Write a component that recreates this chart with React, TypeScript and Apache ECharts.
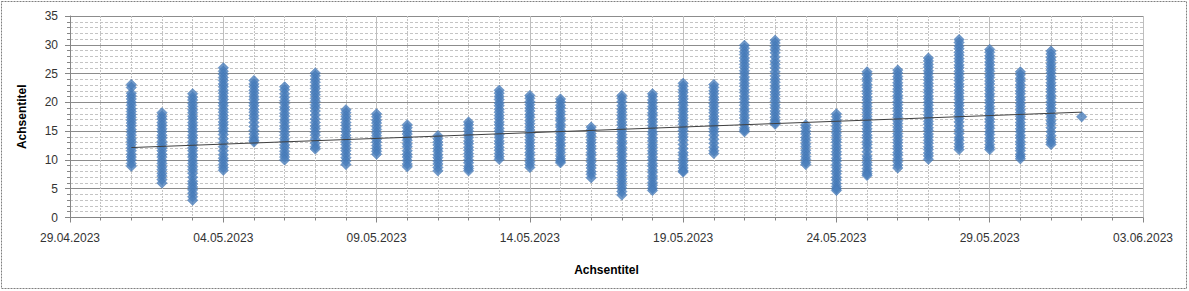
import React, { useEffect, useRef } from "react";
import * as echarts from "echarts";

// Day labels (dd.mm.yyyy) and estimated readings per day
const dayLabels = [
  "01.05.2023", "02.05.2023", "03.05.2023", "04.05.2023", "05.05.2023", "06.05.2023",
  "07.05.2023", "08.05.2023", "09.05.2023", "10.05.2023", "11.05.2023", "12.05.2023",
  "13.05.2023", "14.05.2023", "15.05.2023", "16.05.2023", "17.05.2023", "18.05.2023",
  "19.05.2023", "20.05.2023", "21.05.2023", "22.05.2023", "23.05.2023", "24.05.2023",
  "25.05.2023", "26.05.2023", "27.05.2023", "28.05.2023", "29.05.2023", "30.05.2023",
  "31.05.2023", "01.06.2023",
];

const r0105 = [23.1, 22.6, 21.6, 21.1, 20.6, 20.0, 19.5, 18.9, 18.4, 17.9, 17.4, 16.9, 16.4, 15.9, 15.3, 14.8, 14.3, 13.7, 13.2, 12.7, 12.1, 11.6, 11.0, 10.5, 10.0, 9.4, 8.9];
const r0205 = [18.2, 17.6, 17.1, 16.5, 16.0, 15.4, 14.9, 14.3, 13.8, 13.2, 12.7, 12.1, 11.6, 11.0, 10.5, 9.9, 9.4, 8.8, 8.3, 7.7, 7.2, 6.6, 6.0];
const r0305 = [21.5, 20.9, 20.4, 19.8, 19.3, 18.7, 18.2, 17.6, 17.1, 16.5, 16.0, 15.4, 14.9, 14.3, 13.8, 13.2, 12.7, 12.1, 11.6, 11.0, 10.5, 9.9, 9.4, 8.8, 8.3, 7.7, 7.0, 6.3, 5.8, 5.3, 4.8, 4.2, 3.6, 3.0];
const r0405 = [26.0, 25.4, 24.9, 24.3, 23.8, 23.2, 22.7, 22.1, 21.6, 21.0, 20.5, 19.9, 19.4, 18.8, 18.3, 17.7, 17.2, 16.6, 16.1, 15.5, 15.0, 14.4, 13.7, 13.0, 12.3, 11.6, 10.9, 10.3, 9.8, 9.2, 8.7, 8.2];
const r0505 = [23.8, 23.2, 22.7, 22.1, 21.6, 21.0, 20.5, 19.9, 19.4, 18.8, 18.3, 17.7, 17.2, 16.5, 15.8, 15.1, 14.5, 13.9, 13.4, 13.1];
const r0605 = [22.7, 22.2, 21.5, 20.9, 20.3, 19.8, 19.2, 18.7, 18.1, 17.6, 17.0, 16.5, 15.9, 15.4, 14.8, 14.3, 13.7, 13.2, 12.6, 12.1, 11.5, 11.0, 10.5, 10.0];
const r0705 = [25.1, 24.6, 24.0, 23.5, 22.9, 22.4, 21.8, 21.3, 20.7, 20.2, 19.6, 19.1, 18.5, 17.8, 17.1, 16.5, 15.9, 15.4, 14.8, 14.3, 13.6, 12.9, 12.3, 11.9];
const r0805 = [18.7, 18.2, 17.6, 17.1, 16.5, 16.0, 15.4, 14.9, 14.3, 13.8, 13.2, 12.7, 12.1, 11.6, 11.0, 10.4, 9.8, 9.2];
const r0905 = [18.0, 17.5, 16.9, 16.4, 15.8, 15.3, 14.7, 14.2, 13.6, 13.1, 12.5, 12.0, 11.5, 11.0];
const r1005 = [16.1, 15.6, 15.0, 14.5, 13.9, 13.4, 12.8, 12.3, 11.6, 11.0, 10.5, 9.9, 9.3, 8.8];
const r1105 = [14.2, 13.7, 13.1, 12.6, 12.0, 11.5, 10.9, 10.4, 9.8, 9.3, 8.7, 8.1];
const r1205 = [16.6, 16.1, 15.5, 15.0, 14.4, 13.9, 13.3, 12.8, 12.2, 11.7, 11.1, 10.6, 10.0, 9.5, 8.9, 8.5, 8.1];
const r1305 = [22.1, 21.6, 21.0, 20.5, 19.9, 19.4, 18.8, 18.3, 17.7, 17.2, 16.6, 16.1, 15.5, 15.0, 14.4, 13.9, 13.3, 12.8, 12.2, 11.7, 11.1, 10.6, 10.1];
const r1405 = [21.2, 20.7, 20.1, 19.6, 19.0, 18.5, 17.9, 17.4, 16.8, 16.3, 15.7, 15.2, 14.6, 14.1, 13.5, 13.0, 12.4, 11.9, 11.3, 10.8, 10.2, 9.7, 9.2, 8.7];
const r1505 = [20.6, 20.1, 19.5, 19.0, 18.4, 17.9, 17.3, 16.8, 16.2, 15.7, 15.1, 14.6, 14.0, 13.5, 12.9, 12.4, 11.8, 11.3, 10.7, 10.2, 9.8, 9.5];
const r1605 = [15.7, 15.2, 14.6, 14.1, 13.5, 13.0, 12.4, 11.9, 11.3, 10.8, 10.2, 9.7, 9.1, 8.6, 8.0, 7.5, 6.9];
const r1705 = [21.2, 20.7, 20.1, 19.4, 18.8, 18.3, 17.7, 17.2, 16.6, 16.1, 15.5, 15.0, 14.4, 13.9, 13.3, 12.8, 12.2, 11.7, 11.1, 10.6, 10.0, 9.5, 8.9, 8.4, 7.8, 7.3, 6.7, 6.2, 5.6, 5.1, 4.5, 3.9];
const r1805 = [21.5, 21.0, 20.4, 19.9, 19.3, 18.8, 18.2, 17.7, 17.1, 16.6, 16.0, 15.5, 14.9, 14.4, 13.8, 13.3, 12.7, 12.2, 11.6, 11.1, 10.5, 10.0, 9.4, 8.9, 8.3, 7.8, 7.2, 6.7, 6.1, 5.6, 5.1, 4.7];
const r1905 = [23.3, 22.8, 22.2, 21.7, 21.1, 20.6, 20.0, 19.5, 18.9, 18.4, 17.8, 17.3, 16.7, 16.2, 15.6, 15.1, 14.5, 14.0, 13.4, 12.7, 12.0, 11.3, 10.8, 10.2, 9.7, 9.1, 8.6, 8.1, 7.9];
const r2005 = [23.1, 22.6, 22.0, 21.5, 20.9, 20.4, 19.8, 19.3, 18.7, 18.2, 17.6, 17.1, 16.5, 16.0, 15.4, 14.9, 14.3, 13.6, 12.9, 12.2, 11.6, 11.1];
const r2105 = [29.9, 29.4, 28.8, 28.3, 27.7, 27.2, 26.6, 26.1, 25.5, 25.0, 24.4, 23.9, 23.3, 22.8, 22.2, 21.7, 21.1, 20.6, 20.0, 19.5, 18.9, 18.4, 17.8, 17.3, 16.7, 16.2, 15.6, 15.2, 14.9];
const r2205 = [30.8, 30.3, 29.7, 29.2, 28.6, 27.9, 27.2, 26.6, 26.0, 25.3, 24.6, 24.0, 23.5, 22.9, 22.4, 21.8, 21.3, 20.7, 20.2, 19.6, 19.1, 18.5, 18.0, 17.4, 16.9, 16.5, 16.2];
const r2305 = [16.1, 15.6, 15.0, 14.5, 13.9, 13.4, 12.8, 12.3, 11.7, 11.2, 10.6, 10.1, 9.6, 9.2];
const r2405 = [18.0, 17.5, 16.9, 16.4, 15.8, 15.3, 14.7, 14.2, 13.6, 13.1, 12.5, 12.0, 11.4, 10.9, 10.3, 9.8, 9.2, 8.7, 8.1, 7.6, 7.0, 6.5, 5.9, 5.4, 5.0, 4.7];
const r2505 = [25.3, 24.8, 24.2, 23.7, 23.1, 22.6, 22.0, 21.5, 20.9, 20.4, 19.8, 19.3, 18.7, 18.2, 17.6, 17.1, 16.5, 16.0, 15.4, 14.9, 14.3, 13.8, 13.2, 12.7, 12.1, 11.4, 10.7, 10.2, 9.6, 9.1, 8.5, 8.0, 7.6, 7.3];
const r2605 = [25.6, 25.1, 24.5, 24.0, 23.4, 22.9, 22.3, 21.8, 21.2, 20.7, 20.1, 19.6, 19.0, 18.5, 17.9, 17.4, 16.8, 16.3, 15.7, 15.2, 14.6, 14.1, 13.5, 13.0, 12.4, 11.9, 11.3, 10.8, 10.2, 9.7, 9.1, 8.6];
const r2705 = [27.7, 27.2, 26.6, 26.1, 25.5, 25.0, 24.4, 23.9, 23.3, 22.8, 22.2, 21.7, 21.1, 20.6, 20.0, 19.5, 18.9, 18.4, 17.8, 17.3, 16.7, 16.2, 15.6, 15.1, 14.5, 14.0, 13.4, 12.9, 12.3, 11.8, 11.2, 10.7, 10.1];
const r2805 = [30.9, 30.4, 29.8, 29.3, 28.7, 28.2, 27.6, 27.1, 26.5, 26.0, 25.4, 24.9, 24.3, 23.8, 23.2, 22.7, 22.1, 21.6, 21.0, 20.5, 19.9, 19.4, 18.8, 18.3, 17.7, 17.2, 16.6, 15.9, 15.2, 14.6, 13.9, 13.4, 12.8, 12.3, 11.8];
const r2905 = [29.2, 28.7, 28.1, 27.6, 27.0, 26.5, 25.9, 25.4, 24.8, 24.3, 23.7, 23.2, 22.6, 22.1, 21.5, 21.0, 20.4, 19.9, 19.3, 18.8, 18.2, 17.7, 17.1, 16.6, 16.0, 15.5, 14.9, 14.4, 13.8, 13.3, 12.7, 12.2, 11.8];
const r3005 = [25.3, 24.8, 24.2, 23.7, 23.1, 22.6, 22.0, 21.5, 20.9, 20.4, 19.8, 19.3, 18.7, 18.2, 17.6, 17.1, 16.5, 16.0, 15.4, 14.9, 14.3, 13.8, 13.2, 12.7, 12.1, 11.6, 11.0, 10.6, 10.2];
const r3105 = [28.9, 28.4, 27.8, 27.3, 26.7, 26.2, 25.6, 25.1, 24.5, 24.0, 23.4, 22.9, 22.3, 21.8, 21.2, 20.7, 20.1, 19.6, 19.0, 18.5, 17.9, 17.4, 16.8, 16.3, 15.6, 14.9, 14.2, 13.6, 13.1, 12.7];
const r0106 = [17.5];

const dayReadings = [
  r0105, r0205, r0305, r0405, r0505, r0605, r0705, r0805, r0905, r1005, r1105,
  r1205, r1305, r1405, r1505, r1605, r1705, r1805, r1905, r2005, r2105, r2205,
  r2305, r2405, r2505, r2605, r2705, r2805, r2905, r3005, r3105, r0106,
];

// Linear trend line end points
const trendStart: [string, number] = ["01.05.2023", 12.15];
const trendEnd: [string, number] = ["01.06.2023", 18.3];

// Axis range (dates) and y range
const xMinLabel = "29.04.2023";
const xMaxLabel = "03.06.2023";
const xStepDays = 5;
const yMin = 0;
const yMax = 35;
const yStep = 5;
const axisTitle = "Achsentitel";

const EXCEL_EPOCH = Date.UTC(1899, 11, 30);
const DAY = 86400000;
function toSerial(s: string): number {
  const [d, m, y] = s.split(".").map(Number);
  return Math.round((Date.UTC(y, m - 1, d) - EXCEL_EPOCH) / DAY);
}
function fromSerial(v: number): string {
  const dt = new Date(EXCEL_EPOCH + Math.round(v) * DAY);
  const dd = String(dt.getUTCDate()).padStart(2, "0");
  const mm = String(dt.getUTCMonth() + 1).padStart(2, "0");
  return `${dd}.${mm}.${dt.getUTCFullYear()}`;
}

export default function App() {
  const ref = useRef<HTMLDivElement>(null);
  useEffect(() => {
    document.body.style.margin = "0";
    const chart = echarts.init(ref.current!, null, { renderer: "svg" });
    const points: [number, number][] = [];
    dayLabels.forEach((lbl, i) => {
      const x = toSerial(lbl);
      dayReadings[i].forEach((v) => points.push([x, v]));
    });
    const font = "'Liberation Sans', Arial, sans-serif";
    chart.setOption({
      animation: false,
      backgroundColor: "#ffffff",
      grid: { left: 70, right: 46, top: 16, bottom: 73.5 },
      xAxis: {
        type: "value",
        min: toSerial(xMinLabel),
        max: toSerial(xMaxLabel),
        interval: xStepDays,
        name: axisTitle,
        nameLocation: "middle",
        nameGap: 46,
        nameTextStyle: { fontFamily: font, fontSize: 12, fontWeight: "bold", color: "#000" },
        axisLine: { show: true, lineStyle: { color: "#868686", width: 1 } },
        axisTick: { show: true, inside: false, length: 5, lineStyle: { color: "#868686" } },
        minorTick: { show: true, splitNumber: 5, length: 3, lineStyle: { color: "#868686" } },
        axisLabel: {
          fontFamily: font,
          fontSize: 12,
          color: "#333",
          margin: 14,
          showMinLabel: true,
          showMaxLabel: true,
          formatter: (v: number) => fromSerial(v),
        },
        splitLine: { show: true, lineStyle: { color: "#BEBEBE", width: 1 } },
        minorSplitLine: { show: true, lineStyle: { color: "#C4C4C4", width: 1, type: [2, 1] } },
      },
      yAxis: {
        type: "value",
        min: yMin,
        max: yMax,
        interval: yStep,
        name: axisTitle,
        nameLocation: "middle",
        nameGap: 42,
        nameRotate: 90,
        nameTextStyle: { fontFamily: font, fontSize: 12, fontWeight: "bold", color: "#000" },
        axisLine: { show: true, lineStyle: { color: "#868686", width: 1 } },
        axisTick: { show: true, inside: false, length: 5, lineStyle: { color: "#868686" } },
        minorTick: { show: true, splitNumber: 5, length: 3, lineStyle: { color: "#868686" } },
        axisLabel: { fontFamily: font, fontSize: 12, color: "#333", margin: 12 },
        splitLine: { show: true, lineStyle: { color: "#8C8C8C", width: 1 } },
        minorSplitLine: { show: true, lineStyle: { color: "#C4C4C4", width: 1, type: [3, 2] } },
      },
      series: [
        {
          type: "scatter",
          symbol: "diamond",
          symbolSize: 10.5,
          data: points,
          itemStyle: { color: "#4A7EBB", borderColor: "#4274B2", borderWidth: 0.5 },
          silent: true,
          z: 2,
        },
        {
          type: "line",
          data: [
            [toSerial(trendStart[0]), trendStart[1]],
            [toSerial(trendEnd[0]), trendEnd[1]],
          ],
          showSymbol: false,
          symbol: "none",
          lineStyle: { color: "#404040", width: 1 },
          silent: true,
          z: 3,
        },
      ],
      graphic: [
        {
          type: "rect",
          shape: { x: 1.5, y: 1.5, width: 1185, height: 287 },
          style: { fill: "none", stroke: "#7F7F7F", lineWidth: 1, lineDash: [2, 1] },
          silent: true,
        },
      ],
    });
    return () => chart.dispose();
  }, []);
  return (
    <div
      ref={ref}
      style={{ position: "absolute", left: 0, top: 0, width: 1189, height: 291 }}
    />
  );
}
